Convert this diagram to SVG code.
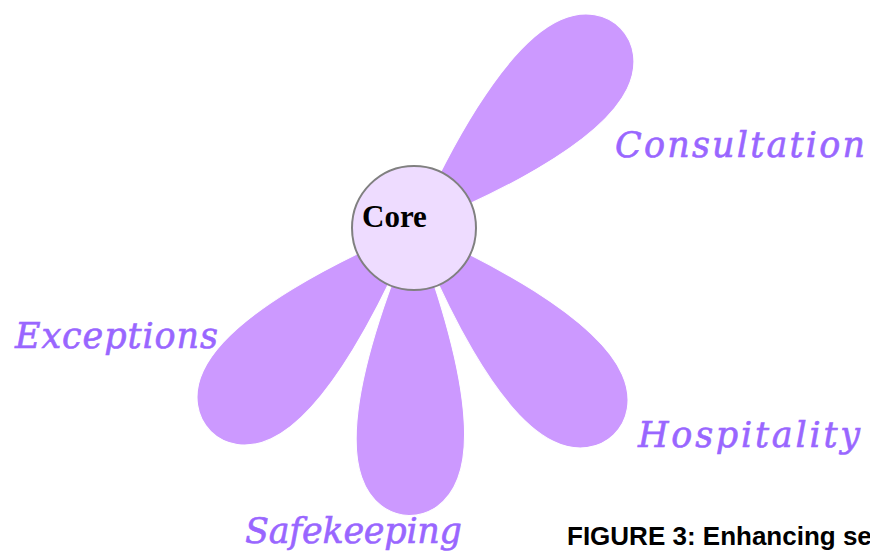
<svg xmlns="http://www.w3.org/2000/svg" width="870" height="556" viewBox="0 0 870 556">
  <style>
    .petal { fill: #cc99ff; stroke: #ffffff; stroke-width: 1; }
    .hub { fill: #eedcff; stroke: #808080; stroke-width: 2; }
    .label { font-family: "DejaVu Serif", "Liberation Serif", serif; font-style: italic; font-size: 35px; fill: #9966ff; stroke: #9966ff; stroke-width: 0.6; }
    .core { font-family: "Liberation Serif", "Times New Roman", serif; font-weight: bold; font-size: 31px; fill: #000000; }
    .caption { font-family: "Liberation Sans", Arial, sans-serif; font-weight: bold; font-size: 26px; fill: #000000; }
  </style>
  <defs>
    <!-- teardrop petal pointing along +x from the hub centre -->
    <path id="petalShape" d="M0,0 C70,-28 190,-70 250,-48 C300,-30 300,30 250,48 C190,70 70,28 0,0 Z"/>
  </defs>

  <g id="connectors">
    <use href="#petalShape" class="petal" transform="translate(414,228) rotate(46)"/>
    <use href="#petalShape" class="petal" transform="translate(414,228) rotate(91)"/>
    <use href="#petalShape" class="petal" transform="translate(414,228) rotate(135)"/>
    <use href="#petalShape" class="petal" transform="translate(414,228) rotate(-44)"/>
  </g>

  <g id="core">
    <circle class="hub" cx="414" cy="228" r="62"/>
    <text class="core" x="362" y="227">Core</text>
  </g>

  <g id="consultation">
    <text class="label" x="615" y="157" textLength="250" lengthAdjust="spacing">Consultation</text>
  </g>
  <g id="exceptions">
    <text class="label" x="15" y="348" textLength="203" lengthAdjust="spacing">Exceptions</text>
  </g>
  <g id="hospitality">
    <text class="label" x="638" y="447" textLength="222" lengthAdjust="spacing">Hospitality</text>
  </g>
  <g id="safekeeping">
    <text class="label" x="245" y="543" textLength="217" lengthAdjust="spacing">Safekeeping</text>
  </g>

  <g id="caption">
    <text class="caption" x="567" y="545">FIGURE 3: Enhancing se</text>
  </g>
</svg>
